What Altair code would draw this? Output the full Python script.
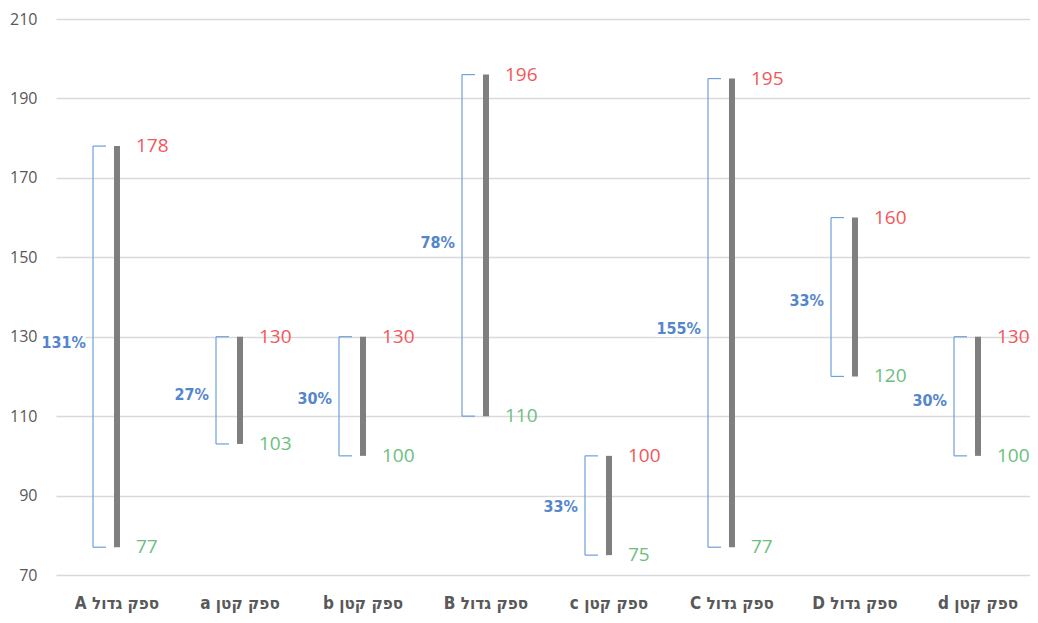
import altair as alt
import pandas as pd

# ---- data ----
categories = ["ספק גדול A", "ספק קטן a", "ספק קטן b", "ספק גדול B",
              "ספק קטן c", "ספק גדול C", "ספק גדול D", "ספק קטן d"]
high_values = [178, 130, 130, 196, 100, 195, 160, 130]
low_values = [77, 103, 100, 110, 75, 77, 120, 100]
pct_labels = ["131%", "27%", "30%", "78%", "33%", "155%", "33%", "30%"]
pct_label_pos = [128.5, 115.2, 114.2, 153.5, 87.0, 132.0, 139.0, 113.7]
y_ticks = [70, 90, 110, 130, 150, 170, 190, 210]

df = pd.DataFrame({
    "idx": list(range(len(categories))),
    "cat": ["\u202b" + c + "\u202c" for c in categories],
    "high": high_values,
    "low": low_values,
    "pct": pct_labels,
    "pct_pos": pct_label_pos,
})

W, H = 974, 556
x = alt.X("idx:Q", scale=alt.Scale(domain=[-0.4959, 7.4228], nice=False, zero=False), axis=None)
y_scale = alt.Scale(domain=[70, 210], nice=False, zero=False)

NUM_FONT = "Open Sans"
COND_FONT = "'Liberation Sans Narrow', 'DejaVu Sans Condensed', sans-serif"
BLUE_LINE = "#6F9FDC"
BLUE_TEXT = "#5586CC"

base = alt.Chart(df)

bars = base.mark_rule(color="#7F7F7F", strokeWidth=6).encode(
    x=x,
    y=alt.Y("low:Q", scale=y_scale,
            axis=alt.Axis(values=y_ticks, title=None, domain=False, ticks=False,
                          labelFontSize=16, labelColor="#595959", labelFont=NUM_FONT,
                          labelPadding=19, gridColor="#D9D9D9", gridWidth=1.5)),
    y2="high:Q",
)

bracket_v = base.mark_rule(color=BLUE_LINE, strokeWidth=1.2, xOffset=-24).encode(
    x=x, y=alt.Y("low:Q", scale=y_scale), y2="high:Q")
bracket_top = base.mark_rule(color=BLUE_LINE, strokeWidth=1.2, xOffset=-24, x2Offset=-11).encode(
    x=x, x2="idx:Q", y=alt.Y("high:Q", scale=y_scale))
bracket_bot = base.mark_rule(color=BLUE_LINE, strokeWidth=1.2, xOffset=-24, x2Offset=-11).encode(
    x=x, x2="idx:Q", y=alt.Y("low:Q", scale=y_scale))

pct_bg = base.mark_text(align="right", baseline="middle", dx=-31, font=COND_FONT,
                        fontWeight="bold", fontSize=16, color="white",
                        stroke="white", strokeWidth=6).encode(
    x=x, y=alt.Y("pct_pos:Q", scale=y_scale), text="pct:N")
pct_txt = base.mark_text(align="right", baseline="middle", dx=-31, font=COND_FONT,
                         fontWeight="bold", fontSize=16, color=BLUE_TEXT).encode(
    x=x, y=alt.Y("pct_pos:Q", scale=y_scale), text="pct:N")

high_txt = base.mark_text(align="left", baseline="middle", dx=19, font=NUM_FONT,
                          fontSize=19, color="#F2575A").encode(
    x=x, y=alt.Y("high:Q", scale=y_scale), text="high:Q")
low_txt = base.mark_text(align="left", baseline="middle", dx=19, font=NUM_FONT,
                         fontSize=19, color="#6DBE7E").encode(
    x=x, y=alt.Y("low:Q", scale=y_scale), text="low:Q")

cat_txt = base.mark_text(align="center", baseline="middle", font=COND_FONT,
                         fontWeight="bold", fontSize=17, color="#595959").encode(
    x=x, y=alt.value(H + 29), text="cat:N")

chart = alt.layer(bars, bracket_v, bracket_top, bracket_bot, pct_bg, pct_txt,
                  high_txt, low_txt, cat_txt).properties(
    width=W, height=H,
    autosize=alt.AutoSizeParams(type="none"),
    padding={"left": 48, "top": 11, "right": 0, "bottom": 40},
).configure_view(stroke=None)

chart.save("out.html", embed_options={"renderer": "svg", "actions": False})
